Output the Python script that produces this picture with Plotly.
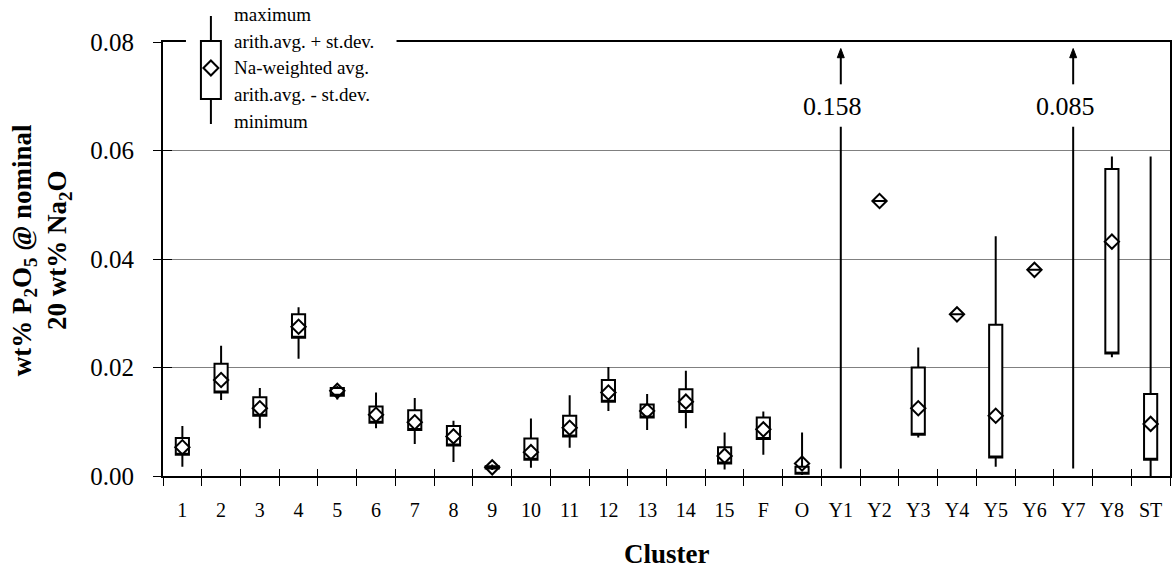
import plotly.graph_objects as go

# ---------------- data ----------------
categories = ["1", "2", "3", "4", "5", "6", "7", "8", "9", "10", "11", "12", "13", "14", "15",
              "F", "O", "Y1", "Y2", "Y3", "Y4", "Y5", "Y6", "Y7", "Y8", "ST"]
maximum      = [0.0092, 0.0240, 0.0162, 0.0311, 0.0166, 0.0154, 0.0144, 0.0102, 0.0021, 0.0106,
                0.0149, 0.0201, 0.0151, 0.0194, 0.0080, 0.0119, 0.0080, 0.158, 0.0507, 0.0237,
                0.0298, 0.0442, 0.0380, 0.085, 0.0589, 0.0589]
avg_plus_sd  = [0.0070, 0.0207, 0.0145, 0.0298, 0.0162, 0.0128, 0.0121, 0.0092, 0.0018, 0.0069,
                0.0111, 0.0177, 0.0132, 0.0160, 0.0053, 0.0108, 0.0017, None, 0.0507, 0.0200,
                0.0298, 0.0279, 0.0380, None, 0.0566, 0.0151]
weighted_avg = [0.0053, 0.0177, 0.0125, 0.0275, 0.0157, 0.0113, 0.0099, 0.0073, 0.0016, 0.0044,
                0.0089, 0.0154, 0.0120, 0.0137, 0.0037, 0.0086, 0.0023, None, 0.0507, 0.0125,
                0.0298, 0.0111, 0.0380, None, 0.0432, 0.0096]
avg_minus_sd = [0.0039, 0.0154, 0.0111, 0.0255, 0.0148, 0.0098, 0.0085, 0.0056, 0.0014, 0.0030,
                0.0073, 0.0137, 0.0108, 0.0118, 0.0023, 0.0068, 0.0004, None, 0.0507, 0.0076,
                0.0298, 0.0034, 0.0380, None, 0.0226, 0.0030]
minimum      = [0.0017, 0.0140, 0.0088, 0.0216, 0.0141, 0.0088, 0.0059, 0.0026, 0.0011, 0.0015,
                0.0052, 0.0120, 0.0085, 0.0088, 0.0012, 0.0039, 0.0002, 0.0014, 0.0507, 0.0071,
                0.0298, 0.0017, 0.0380, 0.0014, 0.0219, 0.0000]
y_ticks = [0.00, 0.02, 0.04, 0.06, 0.08]
legend_labels = ["maximum", "arith.avg. + st.dev.", "Na-weighted avg.",
                 "arith.avg. - st.dev.", "minimum"]

# ---------------- layout constants ----------------
W, H = 1175, 573
ML, MR, MT, MB = 163, 3, 42, 97
PW, PH = W - ML - MR, H - MT - MB
SERIF = "Liberation Serif, Times New Roman, serif"
YMAX = 0.08

def px(x):
    return (x - ML) / PW

def py(y):
    return (H - MB - y) / PH

n = len(categories)
pos = list(range(n))
boundaries = [i - 0.5 for i in range(n + 1)]

fig = go.Figure()

# boxes (precomputed statistics)
bi = [i for i in pos if avg_plus_sd[i] is not None]
fig.add_trace(go.Box(
    x=[pos[i] for i in bi],
    q1=[avg_minus_sd[i] for i in bi],
    median=[avg_minus_sd[i] for i in bi],
    q3=[avg_plus_sd[i] for i in bi],
    lowerfence=[minimum[i] for i in bi],
    upperfence=[maximum[i] for i in bi],
    width=0.34, whiskerwidth=0, boxpoints=False,
    fillcolor="white", line=dict(color="black", width=2),
    showlegend=False, hoverinfo="skip",
))

# weighted average diamonds
fig.add_trace(go.Scatter(
    x=pos, y=weighted_avg, mode="markers",
    marker=dict(symbol="diamond-open", size=11, color="black",
                line=dict(color="black", width=2)),
    showlegend=False, hoverinfo="skip",
))

# invisible trace for the overlay axes (inside tick halves)
fig.add_trace(go.Scatter(x=[None], y=[None], xaxis="x2", yaxis="y2",
                         showlegend=False, hoverinfo="skip"))

shapes = []
annotations = []

# off-scale clusters: line + arrow + value label
ah_w, ah_h = 0.09, 0.0017
for i in pos:
    if avg_plus_sd[i] is None and maximum[i] > YMAX:
        shapes.append(dict(type="line", xref="x", yref="y", x0=i, x1=i,
                           y0=minimum[i], y1=0.0644, line=dict(color="black", width=2)))
        shapes.append(dict(type="line", xref="x", yref="y", x0=i, x1=i,
                           y0=0.0722, y1=0.0780, line=dict(color="black", width=2)))
        shapes.append(dict(type="path", xref="x", yref="y",
                           path=(f"M {i - ah_w} {0.0788 - ah_h} L {i} 0.0788 "
                                 f"L {i + ah_w} {0.0788 - ah_h} Z"),
                           fillcolor="black", line=dict(color="black", width=1)))
        annotations.append(dict(x=i, y=0.0681, xref="x", yref="y", text=f"{maximum[i]:.3f}",
                                showarrow=False, xshift=-8,
                                font=dict(family=SERIF, size=26, color="black")))

# white patch behind legend (hides that part of the top frame)
shapes.append(dict(type="rect", xref="paper", yref="paper", layer="above",
                   x0=px(186), x1=px(397), y0=py(47), y1=py(36),
                   fillcolor="white", line=dict(width=0)))

# legend icon
lx = 211
shapes.append(dict(type="line", xref="paper", yref="paper", layer="above",
                   x0=px(lx), x1=px(lx), y0=py(16), y1=py(124),
                   line=dict(color="black", width=2)))
shapes.append(dict(type="rect", xref="paper", yref="paper", layer="above",
                   x0=px(201), x1=px(221), y0=py(99), y1=py(41),
                   fillcolor="white", line=dict(color="black", width=2)))
d = 7.5
shapes.append(dict(type="path", xref="paper", yref="paper", layer="above",
                   path=(f"M {px(lx - d)} {py(68)} L {px(lx)} {py(68 - d)} "
                         f"L {px(lx + d)} {py(68)} L {px(lx)} {py(68 + d)} Z"),
                   fillcolor="white", line=dict(color="black", width=2)))
for lab, yy in zip(legend_labels, [15, 41, 68, 95, 122]):
    annotations.append(dict(x=px(232), y=py(yy), xref="paper", yref="paper",
                            xanchor="left", yanchor="middle", text=lab, showarrow=False,
                            font=dict(family=SERIF, size=19, color="black")))

# axis titles
annotations.append(dict(x=px(41), y=py(250), xref="paper", yref="paper",
                        text="wt% P<sub>2</sub>O<sub>5</sub> @ nominal<br>20 wt% Na<sub>2</sub>O",
                        textangle=-90, showarrow=False, xanchor="center", yanchor="middle",
                        font=dict(family=SERIF, size=27, color="black", weight="bold")))
annotations.append(dict(x=0.5, y=py(554), xref="paper", yref="paper", text="Cluster",
                        showarrow=False, xanchor="center", yanchor="middle",
                        font=dict(family=SERIF, size=27, color="black", weight="bold")))

fig.update_layout(
    width=W, height=H,
    margin=dict(l=ML, r=MR, t=MT, b=MB, pad=0),
    paper_bgcolor="white", plot_bgcolor="white",
    showlegend=False,
    xaxis=dict(range=[-0.5, n - 0.5], tickmode="array", tickvals=pos, ticktext=categories,
               ticks="", showgrid=False, zeroline=False,
               showline=True, linecolor="black", linewidth=2, mirror=True,
               tickfont=dict(family=SERIF, size=20, color="black"),
               ticklabelstandoff=15,
               minor=dict(tickmode="array", tickvals=boundaries, ticks="outside",
                          ticklen=8, tickwidth=1, tickcolor="black", showgrid=False)),
    yaxis=dict(range=[0, YMAX], tickmode="array", tickvals=y_ticks,
               ticktext=[f"{v:.2f}" for v in y_ticks],
               ticks="outside", ticklen=8, tickwidth=1, tickcolor="black",
               showgrid=True, gridcolor="#808080", gridwidth=1, zeroline=False,
               showline=True, linecolor="black", linewidth=2, mirror=True,
               tickfont=dict(family=SERIF, size=25, color="black"),
               ticklabelstandoff=14),
    xaxis2=dict(overlaying="x", anchor="y", side="bottom", range=[-0.5, n - 0.5],
                tickmode="array", tickvals=boundaries, ticks="inside", ticklen=7,
                tickwidth=1, tickcolor="black", showticklabels=False,
                showgrid=False, zeroline=False, showline=False),
    yaxis2=dict(overlaying="y", anchor="x", side="left", range=[0, YMAX],
                tickmode="array", tickvals=y_ticks, ticks="inside", ticklen=9,
                tickwidth=1, tickcolor="black", showticklabels=False,
                showgrid=False, zeroline=False, showline=False),
    shapes=shapes, annotations=annotations,
)

fig.write_html("out.html")
